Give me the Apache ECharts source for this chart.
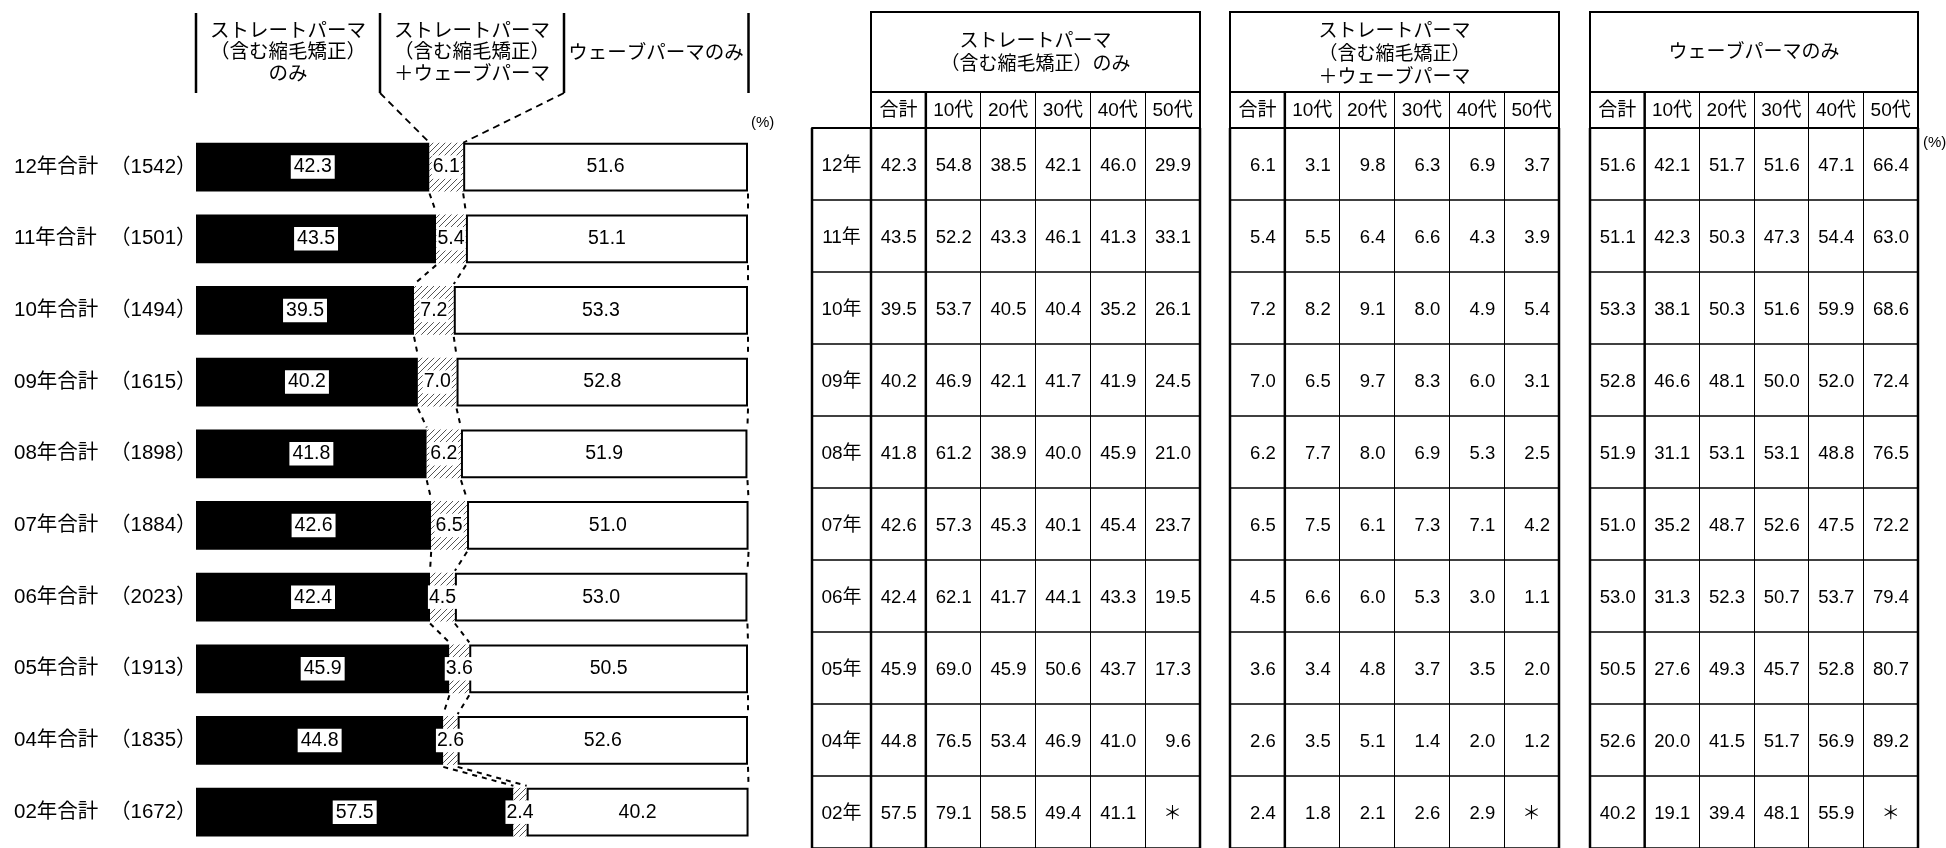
<!DOCTYPE html>
<html><head><meta charset="utf-8">
<script src="https://cdn.jsdelivr.net/npm/echarts@6/dist/echarts.min.js"></script>
<style>html,body{margin:0;padding:0;background:#fff}#c{width:1946px;height:848px}</style>
</head><body><div id="c"></div>
<script>
// ---------------- data ----------------
const years = ['12年','11年','10年','09年','08年','07年','06年','05年','04年','02年'];
const sampleSizes = ['1542','1501','1494','1615','1898','1884','2023','1913','1835','1672'];
const ageGroups = ['合計','10代','20代','30代','40代','50代'];
// rows follow years, columns follow ageGroups; null = "＊"
const straightOnly = [
  [42.3,54.8,38.5,42.1,46.0,29.9],
  [43.5,52.2,43.3,46.1,41.3,33.1],
  [39.5,53.7,40.5,40.4,35.2,26.1],
  [40.2,46.9,42.1,41.7,41.9,24.5],
  [41.8,61.2,38.9,40.0,45.9,21.0],
  [42.6,57.3,45.3,40.1,45.4,23.7],
  [42.4,62.1,41.7,44.1,43.3,19.5],
  [45.9,69.0,45.9,50.6,43.7,17.3],
  [44.8,76.5,53.4,46.9,41.0,9.6],
  [57.5,79.1,58.5,49.4,41.1,null]
];
const straightAndWave = [
  [6.1,3.1,9.8,6.3,6.9,3.7],
  [5.4,5.5,6.4,6.6,4.3,3.9],
  [7.2,8.2,9.1,8.0,4.9,5.4],
  [7.0,6.5,9.7,8.3,6.0,3.1],
  [6.2,7.7,8.0,6.9,5.3,2.5],
  [6.5,7.5,6.1,7.3,7.1,4.2],
  [4.5,6.6,6.0,5.3,3.0,1.1],
  [3.6,3.4,4.8,3.7,3.5,2.0],
  [2.6,3.5,5.1,1.4,2.0,1.2],
  [2.4,1.8,2.1,2.6,2.9,null]
];
const waveOnly = [
  [51.6,42.1,51.7,51.6,47.1,66.4],
  [51.1,42.3,50.3,47.3,54.4,63.0],
  [53.3,38.1,50.3,51.6,59.9,68.6],
  [52.8,46.6,48.1,50.0,52.0,72.4],
  [51.9,31.1,53.1,53.1,48.8,76.5],
  [51.0,35.2,48.7,52.6,47.5,72.2],
  [53.0,31.3,52.3,50.7,53.7,79.4],
  [50.5,27.6,49.3,45.7,52.8,80.7],
  [52.6,20.0,41.5,51.7,56.9,89.2],
  [40.2,19.1,39.4,48.1,55.9,null]
];
const chartHeaders = ['ストレートパーマ\n（含む縮毛矯正）\nのみ','ストレートパーマ\n（含む縮毛矯正）\n＋ウェーブパーマ','ウェーブパーマのみ'];
const tableHeaders = ['ストレートパーマ\n（含む縮毛矯正）のみ','ストレートパーマ\n（含む縮毛矯正）\n＋ウェーブパーマ','ウェーブパーマのみ'];

// ---------------- style ----------------
const NARROW = "'Liberation Sans Narrow','Liberation Sans','Noto Sans CJK JP',sans-serif";
const TFONT = "'Liberation Sans','Noto Sans CJK JP',sans-serif";
const BAR_RATIO = 0.68;
const HEAD_ROW = 36;

const hatch = document.createElement('canvas');
hatch.width = 6; hatch.height = 6;
(function(){
  const g = hatch.getContext('2d');
  g.fillStyle = '#fff'; g.fillRect(0,0,6,6);
  g.strokeStyle = '#555'; g.lineWidth = 1;
  g.beginPath();
  g.moveTo(0,6); g.lineTo(6,0);
  g.moveTo(-1,1); g.lineTo(1,-1);
  g.moveTo(5,7); g.lineTo(7,5);
  g.stroke();
})();

const chart = echarts.init(document.getElementById('c'), null, {renderer:'canvas'});

const tables = [straightOnly, straightAndWave, waveOnly];
const tableLeft = [871, 1230, 1590];
const tableWidth = [329, 329, 328];
const TTOP = 128, THEIGHT = 726;

const grids = [
  {left:196, top:131.25, width:552, height:725},
  {left:812, top:TTOP, width:59, height:THEIGHT}
];
tableLeft.forEach((l,i)=>grids.push({left:l, top:TTOP, width:tableWidth[i], height:THEIGHT}));

const xAxes = [
  {type:'value', gridIndex:0, min:0, max:100, show:false},
  {type:'category', gridIndex:1, data:[''], position:'top', axisLine:{show:true, lineStyle:{color:'#000', width:2}}, axisTick:{show:false}, axisLabel:{show:false}, splitLine:{show:false}}
];
const yAxes = [
  {type:'category', gridIndex:0, data:years, inverse:true, axisLine:{show:false}, axisTick:{show:false},
   axisLabel:{margin:182, align:'left', interval:0, color:'#000',
     formatter:(v,i)=>`{a|${v}合計}{b|（${sampleSizes[i]}）}`,
     rich:{a:{width:96, fontSize:20.5, fontFamily:NARROW, color:'#000'}, b:{fontSize:20.5, fontFamily:NARROW, color:'#000'}}}},
  {type:'category', gridIndex:1, data:years, inverse:true, axisLine:{show:false}, axisTick:{show:false}, axisLabel:{show:false}, splitLine:{show:true, lineStyle:{color:'#000', width:1.5}}}
];
for (let t=0;t<3;t++){
  xAxes.push({type:'category', gridIndex:t+2, data:ageGroups, position:'top',
    axisLine:{show:true, lineStyle:{color:'#000', width:2}},
    axisTick:{show:true, length:HEAD_ROW, lineStyle:{color:'#000', width:1}},
    axisLabel:{margin:8, interval:0, fontSize:19, color:'#000', fontFamily:TFONT},
    splitLine:{show:true, lineStyle:{color:'#000', width:1}}});
  yAxes.push({type:'category', gridIndex:t+2, data:years, inverse:true, axisLine:{show:false}, axisTick:{show:false}, axisLabel:{show:false}, splitLine:{show:true, lineStyle:{color:'#000', width:1.5}}});
}

function cellRenderer(lastCol){
  return function(params, api){
    const col = api.value(0), row = api.value(1), v = api.value(2);
    const c = api.coord([col,row]); const s = api.size([1,1]);
    const x0 = c[0]-s[0]/2, x1 = c[0]+s[0]/2, y0 = c[1]-s[1]/2, y1 = c[1]+s[1]/2;
    const ch = [];
    const missing = isNaN(v);
    ch.push({type:'text', x: missing ? c[0] : x1-9, y: c[1]+2,
      style:{text: missing ? '＊' : v.toFixed(1), fill:'#000', fontSize:18.5, fontFamily:TFONT,
             align: missing ? 'center' : 'right', verticalAlign:'middle'}});
    if (col===0){
      ch.push({type:'line', shape:{x1:x0,y1:y0,x2:x0,y2:y1}, style:{stroke:'#000', lineWidth:2.5}});
      ch.push({type:'line', shape:{x1:x1,y1:row===0?y0-HEAD_ROW:y0,x2:x1,y2:y1}, style:{stroke:'#000', lineWidth:2.5}});
    }
    if (col===lastCol){
      ch.push({type:'line', shape:{x1:x1,y1:y0,x2:x1,y2:y1}, style:{stroke:'#000', lineWidth:2.5}});
    }
    return {type:'group', children:ch};
  };
}

const series = [
  {type:'bar', stack:'t', xAxisIndex:0, yAxisIndex:0, barWidth:(BAR_RATIO*100)+'%',
   data: straightOnly.map(r=>r[0]),
   itemStyle:{color:'#000', borderColor:'#000', borderWidth:1.5},
   label:{show:true, position:'inside', color:'#000', backgroundColor:'#fff', padding:[2,3], fontSize:19.5, fontFamily:NARROW,
     formatter:p=>p.value.toFixed(1)}},
  {type:'bar', stack:'t', xAxisIndex:0, yAxisIndex:0,
   data: straightAndWave.map(r=>r[0]),
   itemStyle:{color:{image:hatch, repeat:'repeat'}, borderWidth:0},
   label:{show:true, position:'inside', color:'#000', backgroundColor:'#fff', padding:[2,1], fontSize:19.5, fontFamily:NARROW,
     formatter:p=>p.value.toFixed(1)}},
  {type:'bar', stack:'t', xAxisIndex:0, yAxisIndex:0,
   data: waveOnly.map(r=>r[0]),
   itemStyle:{color:'#fff', borderColor:'#000', borderWidth:2},
   label:{show:true, position:'inside', color:'#000', fontSize:19.5, fontFamily:NARROW,
     formatter:p=>p.value.toFixed(1)}},
  // series lines between bars
  {type:'custom', xAxisIndex:0, yAxisIndex:0, z:5, silent:true,
   data: years.slice(0,-1).map((_,i)=>[0,i,0]).concat([[0,0,1]]),
   renderItem:function(params, api){
     const i = api.value(1), kind = api.value(2);
     const h = api.size([0,1])[1]*BAR_RATIO/2;
     const bounds = r => { const a = straightOnly[r][0]; const b = a + straightAndWave[r][0]; return [a, b, b + waveOnly[r][0]]; };
     const ch = [];
     if (kind===1){
       const b0 = bounds(0);
       const yTop = api.coord([0,0])[1]-h;
       [[100/3,b0[0]],[200/3,b0[1]]].forEach(([hx,bx])=>{
         const p = api.coord([hx,0]); const q = api.coord([bx,0]);
         ch.push({type:'line', shape:{x1:p[0], y1:93, x2:q[0], y2:yTop}, style:{stroke:'#000', lineWidth:1.8, lineDash:[7,5]}});
       });
     } else {
       const bA = bounds(i), bB = bounds(i+1);
       for (let k=0;k<3;k++){
         const p = api.coord([bA[k], i]); const q = api.coord([bB[k], i+1]);
         ch.push({type:'line', shape:{x1:p[0], y1:p[1]+h+2, x2:q[0], y2:q[1]-h-2}, style:{stroke:'#000', lineWidth:2, lineDash:[5,5]}});
       }
     }
     return {type:'group', children:ch};
   }},
  // year column of first table
  {type:'custom', xAxisIndex:1, yAxisIndex:1, silent:true,
   data: years.map((_,i)=>[0,i]),
   renderItem:function(params, api){
     const row = api.value(1);
     const c = api.coord([0,row]); const s = api.size([1,1]);
     const x0 = c[0]-s[0]/2;
     return {type:'group', children:[
       {type:'text', x:c[0], y:c[1]+2, style:{text:years[row], fill:'#000', fontSize:19, fontFamily:TFONT, align:'center', verticalAlign:'middle'}},
       {type:'line', shape:{x1:x0, y1:c[1]-s[1]/2, x2:x0, y2:c[1]+s[1]/2}, style:{stroke:'#000', lineWidth:2.5}}
     ]};
   }}
];
tables.forEach((tbl,t)=>{
  const d = [];
  tbl.forEach((row,r)=>row.forEach((v,c)=>d.push([c, r, v===null?NaN:v])));
  series.push({type:'custom', xAxisIndex:t+2, yAxisIndex:t+2, silent:true, z:5, data:d, renderItem:cellRenderer(ageGroups.length-1)});
});

// decorations: headers
const graphic = [];
[196, 380, 564, 748.5].forEach(x=>graphic.push({type:'line', shape:{x1:x, y1:13, x2:x, y2:93}, style:{stroke:'#000', lineWidth:2.5}}));
[[288,53],[472,53],[656,54]].forEach(([x,y],i)=>graphic.push({type:'text', x, y,
  style:{text:chartHeaders[i], fill:'#000', fontSize:19.5, lineHeight:21.5, fontFamily:TFONT, align:'center', verticalAlign:'middle'}}));
graphic.push({type:'text', x:751, y:123, style:{text:'(%)', fill:'#000', fontSize:15, fontFamily:NARROW, align:'left', verticalAlign:'middle'}});
tableLeft.forEach((l,i)=>{
  const w = tableWidth[i];
  graphic.push({type:'rect', shape:{x:l, y:12, width:w, height:TTOP-12}, style:{fill:'transparent', stroke:'#000', lineWidth:2}});
  graphic.push({type:'line', shape:{x1:l, y1:92, x2:l+w, y2:92}, style:{stroke:'#000', lineWidth:2}});
  graphic.push({type:'text', x:l+w/2, y:i===1?55:53,
    style:{text:tableHeaders[i], fill:'#000', fontSize:19, lineHeight:23, fontFamily:TFONT, align:'center', verticalAlign:'middle'}});
});
graphic.push({type:'text', x:1923, y:143, style:{text:'(%)', fill:'#000', fontSize:15, fontFamily:NARROW, align:'left', verticalAlign:'middle'}});

chart.setOption({
  animation:false,
  backgroundColor:'#fff',
  grid:grids, xAxis:xAxes, yAxis:yAxes, series, graphic
});
</script></body></html>
